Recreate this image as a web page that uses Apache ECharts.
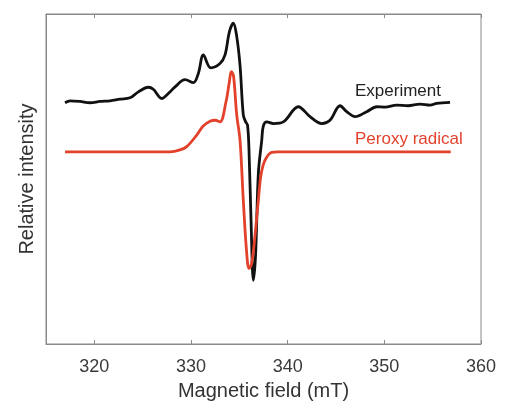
<!DOCTYPE html>
<html>
<head>
<meta charset="utf-8">
<script src="https://cdn.jsdelivr.net/npm/echarts@6/dist/echarts.min.js"></script>
<style>html,body{margin:0;padding:0;background:#fff;}#c{width:511px;height:401px;}</style>
</head>
<body>
<div id="c"></div>
<script>
// Magnetic field (mT) and relative intensity (arbitrary units, 0-100)
var expField = [316.97,317.49,318.52,319.56,320.59,321.62,322.66,323.69,324.55,325.59,326.10,326.97,327.65,328.35,329.38,330.24,330.76,331.28,332.04,333.00,333.52,333.97,334.38,334.71,335.07,335.41,335.66,335.85,336.00,336.21,336.45,336.68,336.97,337.32,337.48,337.83,338.52,339.55,341.10,342.31,343.52,344.38,345.42,346.11,346.97,348.18,349.21,350.07,351.28,352.45,353.69,354.73,355.42,356.80];
var expValue = [73.1,73.7,73.5,73.1,73.5,73.7,74.2,74.6,76.4,77.8,77.2,74.4,75.9,77.9,80.1,79.2,82.0,87.6,83.7,85.0,87.6,94.6,97.2,93.6,84.5,69.4,67.3,66.3,58.7,37.5,19.3,27.0,51.8,61.8,66.0,67.3,66.8,67.3,71.9,68.9,66.8,67.8,72.2,70.4,68.9,70.4,71.9,71.8,72.4,72.2,72.7,72.4,72.9,73.2];
var simField = [316.97,327.83,328.87,329.56,330.59,331.24,331.97,332.49,333.00,333.62,333.97,334.17,334.40,334.73,335.07,335.41,335.74,336.00,336.26,336.52,336.97,337.24,337.66,338.35,338.90,356.87];
var simValue = [58.2,58.2,58.8,59.8,63.3,66.0,67.5,67.8,67.3,73.4,79.5,82.5,81.2,69.4,61.8,43.6,28.4,22.9,24.2,29.9,43.6,51.2,55.7,58.1,58.2,58.2];
var tickValues = [320,330,340,350,360];
var seriesNames = ['Experiment','Peroxy radical'];
var xName = 'Magnetic field (mT)';
var yName = 'Relative intensity';

function pairs(xs, ys){ return xs.map(function(x,i){ return [x, ys[i]]; }); }

var FONT = 'Liberation Sans, Arial, sans-serif';
var chart = echarts.init(document.getElementById('c'), null, {renderer:'canvas'});
chart.setOption({
  backgroundColor:'#fff',
  animation:false,
  grid:{left:46,right:30,top:14,bottom:57,outerBoundsMode:'none',containLabel:false,show:true,borderColor:'#8a8a8a',borderWidth:1,backgroundColor:'transparent'},
  xAxis:[{
    type:'value',min:315,max:360,position:'bottom',
    name:xName,nameLocation:'middle',nameGap:37,
    nameTextStyle:{fontSize:20,color:'#333',fontFamily:FONT},
    axisLine:{show:true,lineStyle:{color:'#8a8a8a'}},
    axisTick:{show:true,inside:true,length:4,customValues:tickValues,lineStyle:{color:'#8a8a8a'}},
    axisLabel:{show:true,customValues:tickValues,margin:14,fontSize:18,color:'#3a3a3a',fontFamily:FONT},
    splitLine:{show:false}
  },{
    type:'value',min:315,max:360,position:'top',
    axisLine:{show:true,lineStyle:{color:'#8a8a8a'}},
    axisTick:{show:true,inside:true,length:4,customValues:tickValues,lineStyle:{color:'#8a8a8a'}},
    axisLabel:{show:false},
    splitLine:{show:false}
  }],
  yAxis:{
    type:'value',min:0,max:100,
    name:yName,nameLocation:'middle',nameGap:9,
    nameTextStyle:{fontSize:20,color:'#333',fontFamily:FONT},
    axisLine:{show:true,lineStyle:{color:'#8a8a8a'}},
    axisTick:{show:false},axisLabel:{show:false},splitLine:{show:false}
  },
  series:[{
    name:seriesNames[0],type:'line',data:pairs(expField,expValue),
    smooth:0.35,showSymbol:false,lineStyle:{color:'#111',width:2.8},z:3
  },{
    name:seriesNames[1],type:'line',data:pairs(simField,simValue),
    smooth:0.35,showSymbol:false,lineStyle:{color:'#e2412b',width:2.8},z:4
  }],
  graphic:[
    {type:'text',left:355,top:83,style:{text:seriesNames[0],fontSize:17,fill:'#222',fontFamily:FONT}},
    {type:'text',left:355,top:131,style:{text:seriesNames[1],fontSize:17,fill:'#e2412b',fontFamily:FONT}}
  ]
});
</script>
</body>
</html>
